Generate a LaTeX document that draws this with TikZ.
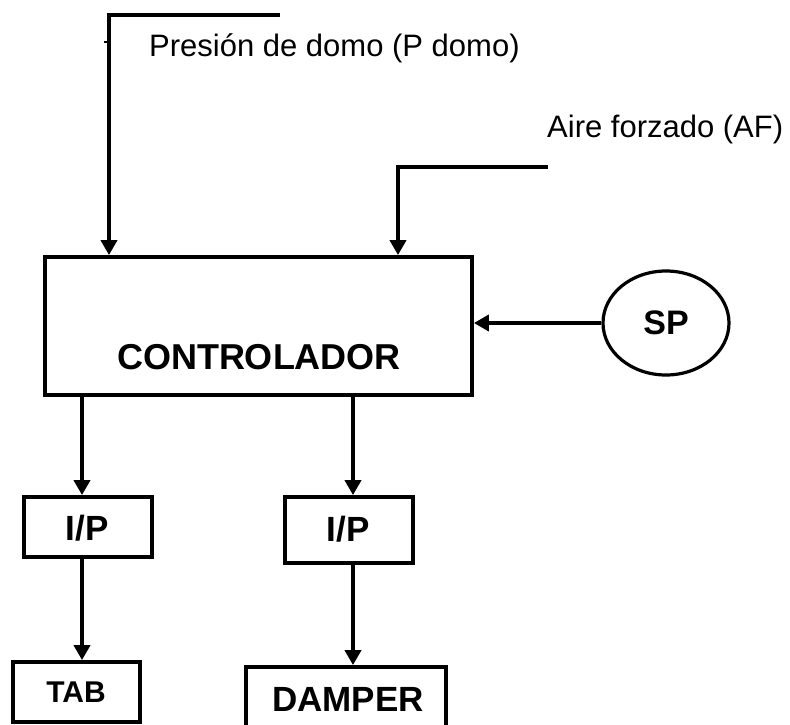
\documentclass[tikz,border=0pt]{standalone}
\usepackage{fontspec}
\setmainfont{Liberation Sans}
\usetikzlibrary{arrows.meta,shapes.geometric}
\begin{document}
\begin{tikzpicture}[x=1pt,y=-1pt,
  box/.style={draw,line width=3.8pt,inner sep=0pt},
  lbl/.style={font=\bfseries\fontsize{35}{35}\selectfont,inner sep=0pt},
  txt/.style={font=\fontsize{31}{31}\selectfont,inner sep=0pt},
  arr/.style={line width=3.8pt,-{Triangle[length=15pt,width=16pt]}},
  ln/.style={line width=3.8pt}]
\useasboundingbox (0,0) rectangle (790,725);
\clip (0,0) rectangle (790,725);
% controller
\node[box,minimum width=427pt,minimum height=138pt] (ctrl) at (258.5,326) {};
\node[lbl,font=\bfseries\fontsize{36}{36}\selectfont] (ctrltxt) at (259,357) {CONTROLADOR};
% SP
\node[draw,ellipse,line width=3.2pt,minimum width=126pt,minimum height=104pt,inner sep=0pt,font=\bfseries\fontsize{34}{34}\selectfont] (sp) at (666,323) {SP};
% I/P boxes
\node[box,minimum width=128pt,minimum height=60pt] (ipL) at (88,527) {};
\node[lbl] (ipLt) at (87,528) {I/P};
\node[box,minimum width=128pt,minimum height=66pt] (ipR) at (349,530) {};
\node[lbl] (ipRt) at (348,529) {I/P};
% final elements
\node[box,minimum width=127pt,minimum height=60pt] (tab) at (76.5,692) {};
\node[lbl,font=\bfseries\fontsize{30}{30}\selectfont] (tabt) at (76,692) {TAB};
\node[box,minimum width=200pt,minimum height=62pt] (dmp) at (346,698) {};
\node[lbl] (dmpt) at (348,699) {DAMPER};
% labels
\node[txt,anchor=base west] (pdt) at (149,57) {Presión de domo (P domo)};
\node[txt,anchor=base west] (aft) at (547,137) {Aire forzado (AF)};
% input lines
\coordinate (pd) at (280,15);
\coordinate (pdc) at (109,15);
\draw[arr] (pd) -- (pdc) -- (pdc |- ctrl.north);
\draw[line width=1.5pt] (104,42) -- (109,42);
\coordinate (af) at (548,167);
\coordinate (afc) at (398,167);
\draw[arr] (af) -- (afc) -- (afc |- ctrl.north);
\draw[arr] (sp.west) -- (sp.west -| ctrl.east);
% output lines
\coordinate (xl) at (82,0);
\coordinate (xr) at (353,0);
\draw[arr] (ctrl.south -| xl) -- (ipL.north -| xl);
\draw[arr] (ctrl.south -| xr) -- (ipR.north -| xr);
\draw[arr] (ipL.south -| xl) -- (tab.north -| xl);
\draw[arr] (ipR.south -| xr) -- (dmp.north -| xr);
\end{tikzpicture}
\end{document}
